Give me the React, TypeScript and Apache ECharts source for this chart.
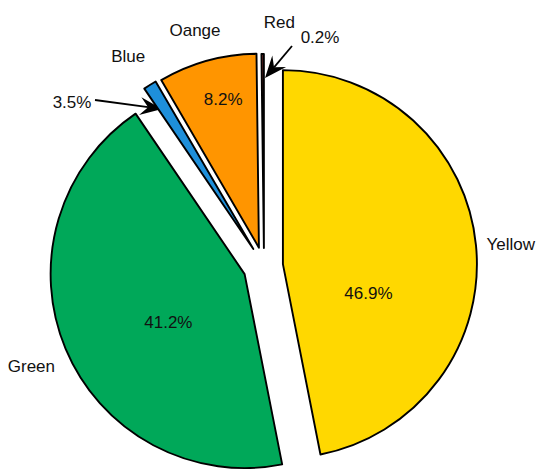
import React, { useEffect, useRef } from "react";
import * as echarts from "echarts";

const categories = ["Yellow", "Green", "Blue", "Oange", "Red"];
// slice shares as drawn in the picture (angles)
const shares = [46.9, 43.6, 1.1, 8.2, 0.2];
// percentages printed on the chart
const printedPct = ["46.9%", "41.2%", "3.5%", "8.2%", "0.2%"];
const colors = ["#FFD800", "#00A859", "#1E8FDA", "#FF9500", "#8E2F2F"];
const showInsidePct = [true, true, false, true, false];
const calloutPct = [false, false, true, false, true];

// layout (not data)
const CX = 264;
const CY = 266;
const R = 194;
const explode = [19, 21, 20, 19, 18];
const pctNudge = [[-14, 39], [16, 10], [0, 0], [-9, -52], [0, 0]];
const nameNudge = [[-3, 3], [-1, 4], [-2, 3], [-2, 6], [17, 7]];
// callout arrows: [textX, textY, startX, startY, tipX, tipY]
const callouts: Record<number, number[]> = {
  2: [72, 102, 95, 100, 162, 109],
  4: [320, 37, 292, 46, 265, 78],
};

const FONT = "'Liberation Sans', Arial, sans-serif";
const TEXT = "#111";

export default function App() {
  const ref = useRef<HTMLDivElement>(null);
  useEffect(() => {
    if (!ref.current) return;
    const chart = echarts.init(ref.current, undefined, { renderer: "svg" });
    const total = shares.reduce((a, b) => a + b, 0);
    let cum = 0;
    const mids = shares.map((v) => {
      const m = ((cum + v / 2) / total) * 2 * Math.PI;
      cum += v;
      return m;
    });

    const sliceSeries = shares.map((_, i) => {
      const a = mids[i];
      const cx = CX + explode[i] * Math.sin(a);
      const cy = CY - explode[i] * Math.cos(a);
      return {
        type: "pie",
        silent: true,
        startAngle: 90,
        clockwise: true,
        center: [cx, cy],
        radius: R,
        avoidLabelOverlap: false,
        emphasis: { disabled: true },
        labelLine: { show: false },
        label: { show: false },
        labelLayout: () => ({ dx: pctNudge[i][0], dy: pctNudge[i][1] }),
        z: 2,
        data: shares.map((v, j) => ({
          name: categories[j],
          value: v,
          itemStyle:
            j === i
              ? { color: colors[j], borderColor: "#000", borderWidth: 1.9 }
              : { color: "rgba(0,0,0,0)", borderWidth: 0 },
          label:
            j === i && showInsidePct[j]
              ? {
                  show: true,
                  position: "inside",
                  formatter: printedPct[j],
                  color: TEXT,
                  fontSize: 17,
                  fontFamily: FONT,
                }
              : { show: false },
        })),
      };
    });

    const nameSeries = {
      type: "pie",
      silent: true,
      startAngle: 90,
      clockwise: true,
      center: [CX, CY],
      radius: [R + 40, R + 68],
      avoidLabelOverlap: false,
      emphasis: { disabled: true },
      labelLine: { show: false },
      itemStyle: { color: "rgba(0,0,0,0)", borderWidth: 0 },
      label: {
        show: true,
        position: "inside",
        formatter: "{b}",
        color: TEXT,
        fontSize: 17,
        fontFamily: FONT,
      },
      labelLayout: (p: any) => ({
        dx: nameNudge[p.dataIndex][0],
        dy: nameNudge[p.dataIndex][1],
      }),
      z: 1,
      data: shares.map((v, j) => ({ name: categories[j], value: v })),
    };

    const graphics: any[] = [];
    shares.forEach((_, i) => {
      if (!calloutPct[i]) return;
      const [tx, ty, sx, sy, ex, ey] = callouts[i];
      graphics.push({
        type: "text",
        x: tx,
        y: ty,
        style: {
          text: printedPct[i],
          fill: TEXT,
          font: `17px ${FONT}`,
          align: "center",
          verticalAlign: "middle",
        },
      });
      const len = Math.hypot(ex - sx, ey - sy);
      const ux = (ex - sx) / len;
      const uy = (ey - sy) / len;
      const nx = -uy;
      const ny = ux;
      const L = 22;
      const W = 9;
      const N = 14;
      graphics.push({
        type: "line",
        shape: { x1: sx, y1: sy, x2: ex - ux * N, y2: ey - uy * N },
        style: { stroke: "#000", lineWidth: 1.8 },
      });
      graphics.push({
        type: "polygon",
        shape: {
          points: [
            [ex, ey],
            [ex - ux * L + nx * W, ey - uy * L + ny * W],
            [ex - ux * N, ey - uy * N],
            [ex - ux * L - nx * W, ey - uy * L - ny * W],
          ],
        },
        style: { fill: "#000" },
      });
    });

    chart.setOption({
      animation: false,
      backgroundColor: "#fff",
      series: [nameSeries, ...sliceSeries],
      graphic: graphics,
    });
    return () => chart.dispose();
  }, []);
  return (
    <div
      ref={ref}
      style={{ position: "fixed", left: 0, top: 0, width: 550, height: 476 }}
    />
  );
}
